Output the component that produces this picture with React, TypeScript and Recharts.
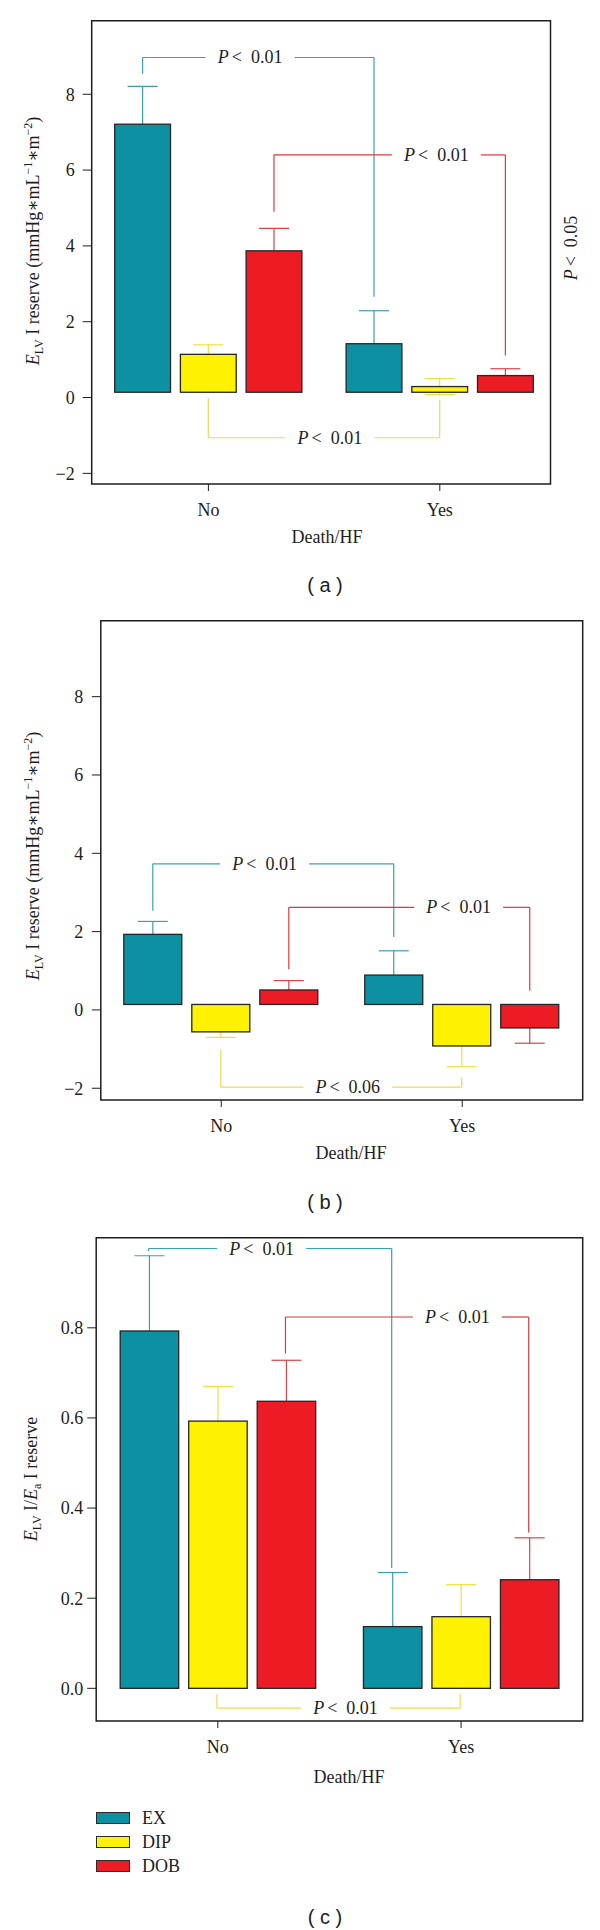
import React from 'react';
import {
  ComposedChart, Bar, XAxis, YAxis, ReferenceLine, ReferenceDot, ReferenceArea, Legend,
} from 'recharts';

const SERIF = "'Liberation Serif', 'DejaVu Serif', serif";
const SANS = "'Liberation Sans', Arial, sans-serif";
const INK = '#1e1e1e';

/* ─── data ─────────────────────────────────────────────────────────── */
const GROUPS = ['No', 'Yes'];
const SERIES = ['EX', 'DIP', 'DOB'];
const FILLS = ['#0c91a2', '#fff200', '#ed1c24'];
const WHISK = ['#3a9fb1', '#f2e03a', '#db4349'];
const BRACKET = ['#3aa0b3', '#f0d755', '#d93a40'];

// (a)
const A_EX = [7.21, 1.42];
const A_DIP = [1.14, 0.29];
const A_DOB = [3.87, 0.58];
const A_EX_ERR = [1.0, 0.87];
const A_DIP_ERR = [0.25, 0.21];
const A_DOB_ERR = [0.59, 0.18];
// per series: [level of bracket, end of left leg, end of right leg]
const A_BRACKETS = [[8.97, 8.54, 2.66], [-1.06, -0.02, -0.06], [6.4, 4.9, 1.11]];
const A_P = ['0.01', '0.01', '0.01'];

// (b)
const B_EX = [1.93, 0.89];
const B_DIP = [-0.56, -0.92];
const B_DOB = [0.51, -0.46];
const B_EX_ERR = [0.33, 0.62];
const B_DIP_ERR = [0.14, 0.53];
const B_DOB_ERR = [0.24, 0.39];
const B_BRACKETS = [[3.73, 2.53, 1.86], [-1.97, -1.02, -1.72], [2.62, 1.04, 0.49]];
const B_P = ['0.01', '0.06', '0.01'];

// (c)
const C_EX = [0.793, 0.137];
const C_DIP = [0.593, 0.159];
const C_DOB = [0.637, 0.241];
const C_EX_ERR = [0.167, 0.12];
const C_DIP_ERR = [0.077, 0.071];
const C_DOB_ERR = [0.091, 0.093];
const C_BRACKETS = [[0.976, 0.97, 0.267], [-0.044, -0.013, -0.013], [0.824, 0.743, 0.346]];
const C_P = ['0.01', '0.01', '0.01'];

const P_AT = [0.68, 1.025, 1.485]; // where each P label sits, in group units
const TICKS_AB = [-2, 0, 2, 4, 6, 8];
const TICKS_C = [0, 0.2, 0.4, 0.6, 0.8];

const fmtInt = (v: number) => (v < 0 ? `\u2212${Math.abs(v)}` : `${v}`);
const fmtDec = (v: number) => v.toFixed(1);

/* ─── bits ─────────────────────────────────────────────────────────── */
// bar with its (symmetric) error whisker drawn behind it
function WhiskerBar(p: any) {
  const { x, y, width, height, fill, v0, v1, err, whisk } = p;
  const top = Math.min(y, y + height);
  const h = Math.abs(height);
  const per = h / Math.abs(v1 - v0);
  const tip = v1 >= v0 ? top : top + h;
  const cx = x + width / 2;
  const e = err * per;
  return (
    <g>
      <line x1={cx} x2={cx} y1={tip - e} y2={tip + e} stroke={whisk} strokeWidth={1.2} />
      <line x1={cx - 15} x2={cx + 15} y1={tip - e} y2={tip - e} stroke={whisk} strokeWidth={1.2} />
      <line x1={cx - 15} x2={cx + 15} y1={tip + e} y2={tip + e} stroke={whisk} strokeWidth={1.2} />
      <rect x={x} y={top} width={width} height={h} fill={fill} stroke="#262626" strokeWidth={1.3} />
    </g>
  );
}

function PText({ cx, cy, p }: any) {
  return (
    <text x={cx} y={cy + 6} textAnchor="middle" fontFamily={SERIF} fontSize={18} fill={INK}>
      <tspan fontStyle="italic">P</tspan>
      <tspan dx={3}>&lt;</tspan>
      <tspan dx={9}>{p}</tspan>
    </text>
  );
}

const ylabReserve = (x: number, y: number) => (
  <text x={x} y={y} transform={`rotate(-90 ${x} ${y})`} textAnchor="middle"
    fontFamily={SERIF} fontSize={18} fill={INK}>
    <tspan fontStyle="italic">E</tspan>
    <tspan fontSize={12} dy={4}>LV</tspan>
    <tspan dy={-4}>{' I reserve (mmHg\u2217mL'}</tspan>
    <tspan fontSize={12} dy={-7}>{'\u22121'}</tspan>
    <tspan dy={7}>{'\u2217m'}</tspan>
    <tspan fontSize={12} dy={-7}>{'\u22122'}</tspan>
    <tspan dy={7}>)</tspan>
  </text>
);

const ylabRatio = (x: number, y: number) => (
  <text x={x} y={y} transform={`rotate(-90 ${x} ${y})`} textAnchor="middle"
    fontFamily={SERIF} fontSize={18} fill={INK}>
    <tspan fontStyle="italic">E</tspan>
    <tspan fontSize={12} dy={4}>LV</tspan>
    <tspan dy={-4}>{' I/'}</tspan>
    <tspan fontStyle="italic">E</tspan>
    <tspan fontSize={12} dy={4}>a</tspan>
    <tspan dy={-4}>{' I reserve'}</tspan>
  </text>
);

const xTitle = (x: number, y: number) => (
  <text x={x} y={y} textAnchor="middle" fontFamily={SERIF} fontSize={18} fill={INK}>Death/HF</text>
);

const sideP = (
  <text x={577} y={248} transform="rotate(-90 577 248)" textAnchor="middle"
    fontFamily={SERIF} fontSize={18} fill={INK}>
    <tspan fontStyle="italic">P</tspan>
    <tspan dx={3}>&lt;</tspan>
    <tspan dx={9}>0.05</tspan>
  </text>
);

const renderLegend = (props: any) => {
  const items = [...(props.payload || [])].sort(
    (a: any, b: any) => SERIES.indexOf(a.value) - SERIES.indexOf(b.value),
  );
  return (
    <div>
      {items.map((entry: any) => (
        <div key={entry.value} style={{ display: 'flex', alignItems: 'center', height: 24 }}>
          <span style={{
            display: 'inline-block', width: 32, height: 10,
            background: FILLS[SERIES.indexOf(entry.value)] || entry.color, border: '1px solid #2a2a2a',
          }} />
          <span style={{ marginLeft: 12, fontFamily: SERIF, fontSize: 18, color: INK }}>{entry.value}</span>
        </div>
      ))}
    </div>
  );
};

interface PanelCfg {
  top: number; height: number; left: number; right: number;
  plotTop: number; plotBottom: number;
  dom: [number, number]; ticks: number[]; fmt: (v: number) => string;
  base: number; bar: number; gap: number; padL: number; padR: number; tickMargin: number;
  vals: number[][]; errs: number[][]; brackets: number[][]; ps: string[];
  ylab: React.ReactNode; title: React.ReactNode; side?: React.ReactNode; legend?: boolean;
}

function Panel({ cfg }: { cfg: PanelCfg }) {
  const data = GROUPS.map((g, i) => {
    const row: any = { group: g };
    SERIES.forEach((s, si) => {
      row[s] = cfg.vals[si][i];
      row[s + 'e'] = cfg.errs[si][i];
    });
    return row;
  });

  // the hidden "f" axis spans the plot width 0..1; bar centres follow Recharts' band layout
  const plotW = 600 - cfg.left - cfg.right;
  const band = (plotW - cfg.padL - cfg.padR) / GROUPS.length;
  const groupW = SERIES.length * cfg.bar + (SERIES.length - 1) * cfg.gap;
  const off = Math.trunc((band - groupW) / 2);
  const frac = (groupUnits: number) => (cfg.padL + groupUnits * band) / plotW;
  const at = (gi: number, si: number) => frac(gi + (off + si * (cfg.bar + cfg.gap) + cfg.bar / 2) / band);
  const gapHalf = 44.5 / plotW;

  return (
    <div style={{ position: 'absolute', left: 0, top: cfg.top }}>
      <ComposedChart
        width={600}
        height={cfg.height}
        data={data}
        margin={{ top: cfg.plotTop, right: cfg.right, bottom: cfg.height - cfg.plotBottom - 40, left: 0 }}
        barSize={cfg.bar}
        barGap={cfg.gap}
      >
        <XAxis
          dataKey="group"
          type="category"
          padding={{ left: cfg.padL, right: cfg.padR }}
          height={40}
          axisLine={false}
          tickSize={7}
          tickMargin={12}
          tickLine={{ stroke: INK }}
          tick={{ fontFamily: SERIF, fontSize: 18, fill: INK }}
          label={() => cfg.title}
        />
        <XAxis xAxisId="f" type="number" domain={[0, 1]} hide allowDataOverflow />
        <YAxis
          type="number"
          domain={cfg.dom}
          ticks={cfg.ticks}
          allowDataOverflow
          width={cfg.left}
          tickFormatter={cfg.fmt}
          axisLine={false}
          tickSize={9}
          tickMargin={cfg.tickMargin}
          tickLine={{ stroke: INK }}
          tick={{ fontFamily: SERIF, fontSize: 18, fill: INK }}
          label={() => cfg.ylab}
        />

        {/* plot frame */}
        <ReferenceArea xAxisId="f" x1={0} x2={1} y1={cfg.dom[0]} y2={cfg.dom[1]}
          fill="none" fillOpacity={0} stroke={INK} strokeWidth={1.5} ifOverflow="visible"
          label={cfg.side ? () => cfg.side : undefined} />

        {SERIES.map((s, si) => (
          <Bar
            key={s}
            name={s}
            dataKey={(d: any) => [cfg.base, d[s]]}
            fill={FILLS[si]}
            isAnimationActive={false}
            shape={(p: any) => (
              <WhiskerBar {...p} v0={cfg.base} v1={p.payload[s]} err={p.payload[s + 'e']} whisk={WHISK[si]} />
            )}
          />
        ))}

        {/* significance brackets */}
        {cfg.brackets.map(([lvl, l, r], si) => {
          const x0 = at(0, si);
          const x1 = at(1, si);
          const lx = frac(P_AT[si]);
          const segs = [
            [x0, l, x0, lvl],
            [x0, lvl, lx - gapHalf, lvl],
            [lx + gapHalf, lvl, x1, lvl],
            [x1, lvl, x1, r],
          ];
          return segs.map(([ax, ay, bx, by], k) => (
            <ReferenceLine
              key={`b${si}-${k}`}
              xAxisId="f"
              segment={[{ x: ax, y: ay }, { x: bx, y: by }]}
              stroke={BRACKET[si]}
              strokeWidth={1.2}
              ifOverflow="visible"
            />
          ));
        })}
        {cfg.brackets.map(([lvl], si) => (
          <ReferenceDot
            key={`p${si}`}
            xAxisId="f"
            x={frac(P_AT[si])}
            y={lvl}
            r={0}
            ifOverflow="visible"
            shape={(sp: any) => <PText cx={sp.cx} cy={sp.cy} p={cfg.ps[si]} />}
          />
        ))}

        {cfg.legend && (
          <Legend
            layout="vertical"
            align="center"
            verticalAlign="middle"
            content={renderLegend}
            wrapperStyle={{ left: 96, top: 606, width: 120, height: 72 }}
          />
        )}
      </ComposedChart>
    </div>
  );
}

const PANEL_A: PanelCfg = {
  top: 0, height: 600, left: 91.7, right: 49.5, plotTop: 20.7, plotBottom: 484,
  dom: [-2.28, 9.94], ticks: TICKS_AB, fmt: fmtInt,
  base: 0.14, bar: 55.8, gap: 9.9, padL: 1, padR: -5, tickMargin: 8,
  vals: [A_EX, A_DIP, A_DOB], errs: [A_EX_ERR, A_DIP_ERR, A_DOB_ERR],
  brackets: A_BRACKETS, ps: A_P,
  ylab: ylabReserve(39, 241), title: xTitle(327, 543), side: sideP,
};

const PANEL_B: PanelCfg = {
  top: 600, height: 600, left: 100.8, right: 17.3, plotTop: 20.7, plotBottom: 500,
  dom: [-2.3, 9.94], ticks: TICKS_AB, fmt: fmtInt,
  base: 0.14, bar: 58, gap: 10, padL: 0, padR: 0, tickMargin: 8.5,
  vals: [B_EX, B_DIP, B_DOB], errs: [B_EX_ERR, B_DIP_ERR, B_DOB_ERR],
  brackets: B_BRACKETS, ps: B_P,
  ylab: ylabReserve(39, 256), title: xTitle(351, 559),
};

const PANEL_C: PanelCfg = {
  top: 1200, height: 730, left: 96.2, right: 17.3, plotTop: 37.7, plotBottom: 521,
  dom: [-0.0725, 1.0], ticks: TICKS_C, fmt: fmtDec,
  base: 0, bar: 58.5, gap: 10, padL: 0, padR: 0, tickMargin: 4,
  vals: [C_EX, C_DIP, C_DOB], errs: [C_EX_ERR, C_DIP_ERR, C_DOB_ERR],
  brackets: C_BRACKETS, ps: C_P,
  ylab: ylabRatio(37, 279), title: xTitle(349, 583), legend: true,
};

const caption = (text: string, top: number) => (
  <div style={{
    position: 'absolute', left: 0, top, width: 650, textAlign: 'center',
    fontFamily: SANS, fontSize: 20, lineHeight: '20px', color: INK, whiteSpace: 'pre',
  }}>{text}</div>
);

export default function App() {
  return (
    <div style={{ position: 'absolute', left: 0, top: 0, width: 600, height: 1930, background: '#fff', overflow: 'hidden' }}>
      <Panel cfg={PANEL_A} />
      {caption('( a )', 575)}
      <Panel cfg={PANEL_B} />
      {caption('( b )', 1192)}
      <Panel cfg={PANEL_C} />
      {caption('( c )', 1907)}
    </div>
  );
}
